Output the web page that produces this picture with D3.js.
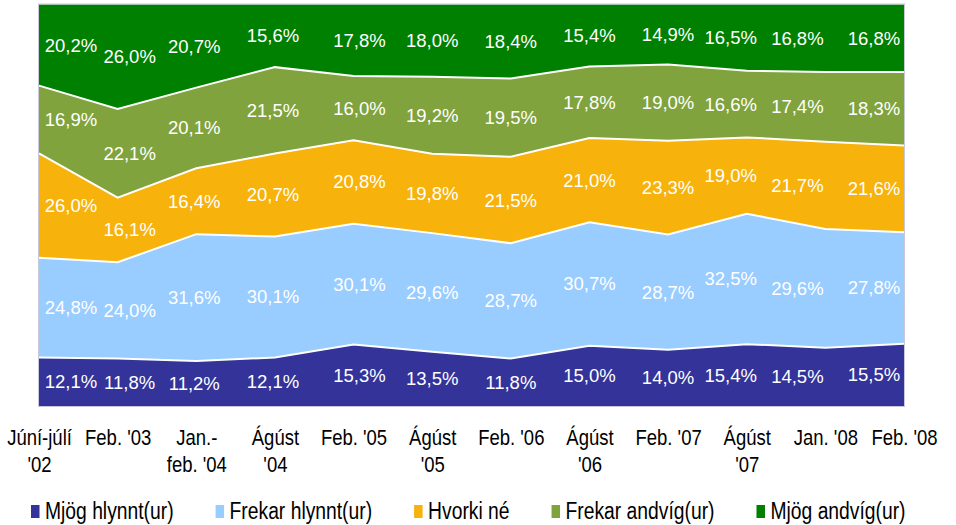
<!DOCTYPE html>
<html><head><meta charset="utf-8">
<script src="https://cdn.jsdelivr.net/npm/d3@7/dist/d3.min.js"></script>
<style>body{margin:0;background:#fff} svg{display:block;font-family:"Liberation Sans",Arial,sans-serif}</style>
</head><body><svg id="c" width="956" height="525"></svg>
<script>
// ---- data ----
const categories = ["Júní-júlí\n'02","Feb. '03","Jan.-\nfeb. '04","Ágúst\n'04","Feb. '05","Ágúst\n'05","Feb. '06","Ágúst\n'06","Feb. '07","Ágúst\n'07","Jan. '08","Feb. '08"];
const seriesNames = ["Mjög hlynnt(ur)","Frekar hlynnt(ur)","Hvorki né","Frekar andvíg(ur)","Mjög andvíg(ur)"];
const mjogHlynnt   = [12.1,11.8,11.2,12.1,15.3,13.5,11.8,15.0,14.0,15.4,14.5,15.5];
const frekarHlynnt = [24.8,24.0,31.6,30.1,30.1,29.6,28.7,30.7,28.7,32.5,29.6,27.8];
const hvorkiNe     = [26.0,16.1,16.4,20.7,20.8,19.8,21.5,21.0,23.3,19.0,21.7,21.6];
const frekarAndvig = [16.9,22.1,20.1,21.5,16.0,19.2,19.5,17.8,19.0,16.6,17.4,18.3];
const mjogAndvig   = [20.2,26.0,20.7,15.6,17.8,18.0,18.4,15.4,14.9,16.5,16.8,16.8];

// ---- layout / style ----
const colors = ["#333399","#99ccff","#f7b20b","#80a33e","#008000"];
const labelNudge = [32,12,-2,-2,6,0,0,0,0,-16,-28,-30];
const plot = {left:39, right:904, top:4.5, bottom:406};
const FONT = 18.5;
const LEGEND_FONT = 19.3;

const seriesValues = [mjogHlynnt, frekarHlynnt, hvorkiNe, frekarAndvig, mjogAndvig];
const keys = seriesNames;
const rows = categories.map((c,i)=>{
  const r = {cat:c, idx:i};
  keys.forEach((k,j)=>r[k]=seriesValues[j][i]);
  return r;
});
const stack = d3.stack().keys(keys).offset(d3.stackOffsetExpand);
const layers = stack(rows);

const svg = d3.select("#c");
const x = d3.scalePoint().domain(categories).range([plot.left, plot.right]).padding(0);
const y = d3.scaleLinear().domain([0,1]).range([plot.bottom, plot.top]);

const area = d3.area().x(d=>x(d.data.cat)).y0(d=>y(d[0])).y1(d=>y(d[1]));
svg.append("g").selectAll("path").data(layers).join("path")
  .attr("d", area).attr("fill",(d,i)=>colors[i]);

const line = d3.line().x(d=>x(d.data.cat)).y(d=>y(d[1]));
svg.append("g").selectAll("path").data(layers.slice(0,-1)).join("path")
  .attr("d", line).attr("fill","none").attr("stroke","#fff").attr("stroke-width",2);

svg.append("rect").attr("x",plot.left-0.5).attr("y",plot.top-0.5)
  .attr("width",plot.right-plot.left+1).attr("height",plot.bottom-plot.top+1)
  .attr("fill","none").attr("stroke","#c8c8dc").attr("stroke-width",1);

// value labels
const fmt = v => d3.format(".1f")(v).replace(".",",")+"%";
layers.forEach((layer,j)=>{
  svg.append("g").selectAll("text").data(layer).join("text")
    .attr("x", d=>x(d.data.cat)+labelNudge[d.data.idx])
    .attr("y", d=>(y(d[0])+y(d[1]))/2)
    .attr("dy","0.35em")
    .attr("text-anchor","middle")
    .attr("fill","#fff")
    .attr("font-size",FONT)
    .text(d=>fmt(seriesValues[j][d.data.idx]));
});

// x axis
const axis = svg.append("g").attr("transform",`translate(0,${plot.bottom})`)
  .call(d3.axisBottom(x).tickSize(0).tickFormat(""));
axis.select(".domain").remove();
axis.selectAll(".tick text").remove();
axis.selectAll(".tick").append("text")
  .attr("transform","translate(0,39) scale(1,1.2)")
  .attr("text-anchor","middle").attr("fill","#000").attr("font-size",FONT)
  .attr("font-family","'Liberation Sans',Arial,sans-serif")
  .each(function(d){
    const parts = d.split("\n");
    const t = d3.select(this);
    parts.forEach((p,k)=>t.append("tspan").attr("x",0).attr("dy",k?22.5:0).text(p));
  });

// legend
const lg = svg.append("g");
let lx = 31;
seriesNames.forEach((n,i)=>{
  const g = lg.append("g").attr("transform",`translate(${lx},0)`);
  g.append("rect").attr("x",0).attr("y",505).attr("width",8.5).attr("height",13).attr("fill",colors[i]);
  const t = g.append("text").attr("transform","translate(14,519) scale(1,1.2)")
    .attr("font-size",LEGEND_FONT).attr("fill","#000").text(n);
  lx += 14 + t.node().getComputedTextLength() + 42;
});
</script></body></html>
